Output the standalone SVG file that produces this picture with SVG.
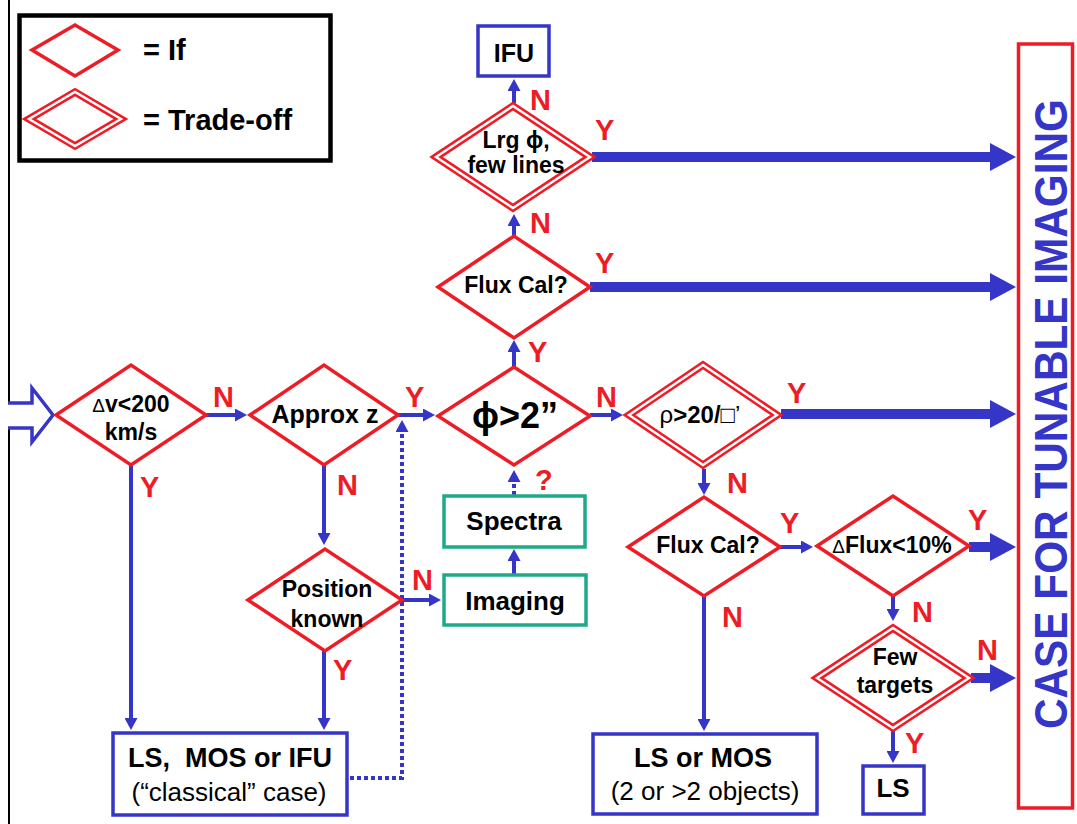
<svg xmlns="http://www.w3.org/2000/svg" width="1077" height="824" viewBox="0 0 1077 824">
<style>
text{font-family:"Liberation Sans",Arial,"DejaVu Sans",sans-serif;}
.t{font-weight:bold;font-size:23px;fill:#000;text-anchor:middle;}
.r{font-weight:normal;font-size:26px;fill:#000;text-anchor:middle;white-space:pre;}
.lbl{font-weight:bold;font-size:29px;fill:#ee1c25;}
.if{fill:#fff;stroke:#ee1c25;stroke-width:3.5;stroke-linejoin:miter;}
.to{fill:#fff;stroke:#ee1c25;stroke-width:7.5;stroke-linejoin:miter;}
.toi{fill:none;stroke:#fff;stroke-width:2.4;stroke-linejoin:miter;}
.bx{fill:#fff;stroke:#3535c8;stroke-width:3.5;}
.gx{fill:#fff;stroke:#1fa98b;stroke-width:3.5;}
.c{fill:none;stroke:#3535c8;stroke-width:4;}
.d{fill:none;stroke:#3535c8;stroke-width:4;stroke-dasharray:4 3;}
.k{fill:none;stroke:#3535c8;stroke-width:10;}
</style>
<defs>
<marker id="a" markerUnits="userSpaceOnUse" markerWidth="13" markerHeight="13" refX="3" refY="6.5" orient="auto"><path d="M0,0 L12,6.5 L0,13 z" fill="#3535c8"/></marker>
<marker id="A" markerUnits="userSpaceOnUse" markerWidth="27" markerHeight="28" refX="4" refY="14" orient="auto"><path d="M0,0 L26,14 L0,28 z" fill="#3535c8"/></marker>
</defs>
<rect width="1077" height="824" fill="#fff"/>
<line x1="9" y1="0" x2="9" y2="824" stroke="#000" stroke-width="2"/>

<g id="legend">
<rect x="19.5" y="15.5" width="311" height="145" fill="#fff" stroke="#000" stroke-width="4.5"/>
<polygon class="if" points="32,50 75,25 118,50 75,76"/>
<polygon class="to" points="29,119 75,92 121,119 75,146"/>
<polygon class="toi" points="29,119 75,92 121,119 75,146"/>
<text x="143" y="60" style="font-weight:bold;font-size:29px">= If</text>
<text x="143" y="130" style="font-weight:bold;font-size:29px">= Trade-off</text>
</g>

<g id="tunable">
<rect x="1018.5" y="44" width="54" height="764" fill="#fff" stroke="#ee1c25" stroke-width="3.5"/>
<text transform="translate(1067,414) rotate(-90)" text-anchor="middle" textLength="630" lengthAdjust="spacingAndGlyphs" style="font-size:47px;font-weight:bold;fill:#3535c8">CASE FOR TUNABLE IMAGING</text>
</g>

<g id="entry">
<path d="M8,403 H32 V388 L53,415 L32,442 V428 H8" fill="#fff" stroke="#3535c8" stroke-width="3.5"/>
</g>

<g id="connectors">
<path class="c" marker-end="url(#a)" d="M206,415 H238"/>
<path class="c" marker-end="url(#a)" d="M398,415 H426"/>
<path class="c" marker-end="url(#a)" d="M590,415 H614"/>
<path class="c" marker-end="url(#a)" d="M514,367 V349"/>
<path class="c" marker-end="url(#a)" d="M514,236 V223"/>
<path class="c" marker-end="url(#a)" d="M514,103 V88"/>
<path class="c" marker-end="url(#a)" d="M131,465 V721"/>
<path class="c" marker-end="url(#a)" d="M324,465 V536"/>
<path class="c" marker-end="url(#a)" d="M324,651 V721"/>
<path class="c" marker-end="url(#a)" d="M402,600 H432"/>
<path class="c" marker-end="url(#a)" d="M514,574 V558"/>
<path class="d" marker-end="url(#a)" d="M514,495 V479"/>
<path class="d" marker-end="url(#a)" d="M350,778 H402 V429"/>
<path class="c" marker-end="url(#a)" d="M704,469 V486"/>
<path class="c" marker-end="url(#a)" d="M780,547 H804"/>
<path class="c" marker-end="url(#a)" d="M704,596 V722"/>
<path class="c" marker-end="url(#a)" d="M893,596 V612"/>
<path class="c" marker-end="url(#a)" d="M893,731 V754"/>
<path class="k" marker-end="url(#A)" d="M592,157 H994"/>
<path class="k" marker-end="url(#A)" d="M590,287 H994"/>
<path class="k" marker-end="url(#A)" d="M781,414 H994"/>
<path class="k" marker-end="url(#A)" d="M969,547 H994"/>
<path class="k" marker-end="url(#A)" d="M971,678 H994"/>
<text class="lbl" x="530" y="110">N</text>
<text class="lbl" x="595" y="140">Y</text>
<text class="lbl" x="530" y="233">N</text>
<text class="lbl" x="595" y="273">Y</text>
<text class="lbl" x="528" y="362">Y</text>
<text class="lbl" x="213" y="407">N</text>
<text class="lbl" x="405" y="407">Y</text>
<text class="lbl" x="596" y="407">N</text>
<text class="lbl" x="787" y="403">Y</text>
<text class="lbl" x="535" y="490">?</text>
<text class="lbl" x="727" y="493">N</text>
<text class="lbl" x="140" y="497">Y</text>
<text class="lbl" x="337" y="495">N</text>
<text class="lbl" x="412" y="590">N</text>
<text class="lbl" x="333" y="680">Y</text>
<text class="lbl" x="780" y="533">Y</text>
<text class="lbl" x="968" y="530">Y</text>
<text class="lbl" x="722" y="627">N</text>
<text class="lbl" x="912" y="622">N</text>
<text class="lbl" x="977" y="660">N</text>
<text class="lbl" x="905" y="753">Y</text>
</g>

<g id="dv">
<polygon class="if" points="56,415 131,365 206,415 131,465"/>
<text class="t" x="131" y="412"><tspan style="font-weight:normal;font-size:19px">Δ</tspan>v&lt;200</text>
<text class="t" x="131" y="440">km/s</text>
</g>
<g id="approxz">
<polygon class="if" points="250,415 324,365 398,415 324,465"/>
<text class="t" x="325" y="423" style="font-size:25px">Approx z</text>
</g>
<g id="phi">
<polygon class="if" points="438,416 514,367 590,416 514,465"/>
<text class="t" x="515" y="428" style="font-size:36px">ϕ&gt;2”</text>
</g>
<g id="rho">
<polygon class="to" points="629,415 703,365 777,415 703,465"/>
<polygon class="toi" points="629,415 703,365 777,415 703,465"/>
<text class="t" x="700" y="423" style="font-size:24px"><tspan style="font-weight:normal">ρ</tspan>&gt;20/<tspan style="font-weight:normal">□’</tspan></text>
</g>
<g id="fluxcal1">
<polygon class="if" points="438,287 514,236 590,287 514,338"/>
<text class="t" x="516" y="293">Flux Cal?</text>
</g>
<g id="lrg">
<polygon class="to" points="436,157 513,106 590,157 513,208"/>
<polygon class="toi" points="436,157 513,106 590,157 513,208"/>
<text class="t" x="516" y="148">Lrg ϕ,</text>
<text class="t" x="516" y="173">few lines</text>
</g>
<g id="ifu">
<rect class="bx" x="478" y="26" width="71" height="50"/>
<text class="t" x="514" y="62" style="font-size:25px">IFU</text>
</g>
<g id="position">
<polygon class="if" points="248,600 325,549 402,600 325,651"/>
<text class="t" x="327" y="597">Position</text>
<text class="t" x="327" y="627">known</text>
</g>
<g id="spectra">
<rect class="gx" x="444" y="496" width="141" height="51"/>
<text class="t" x="514" y="530" style="font-size:26px">Spectra</text>
</g>
<g id="imaging">
<rect class="gx" x="444" y="575" width="142" height="50"/>
<text class="t" x="515" y="610" style="font-size:26px">Imaging</text>
</g>
<g id="fluxcal2">
<polygon class="if" points="628,547 704,497 780,547 704,596"/>
<text class="t" x="708" y="553">Flux Cal?</text>
</g>
<g id="dflux">
<polygon class="if" points="817,546 893,496 969,546 893,596"/>
<text class="t" x="892" y="553"><tspan style="font-weight:normal;font-size:19px">Δ</tspan>Flux&lt;10%</text>
</g>
<g id="few">
<polygon class="to" points="817,678 893,628 969,678 893,728"/>
<polygon class="toi" points="817,678 893,628 969,678 893,728"/>
<text class="t" x="895" y="665">Few</text>
<text class="t" x="895" y="693">targets</text>
</g>
<g id="ls">
<rect class="bx" x="863" y="766" width="61" height="48"/>
<text class="t" x="893" y="797" style="font-size:26px">LS</text>
</g>
<g id="lsmos">
<rect class="bx" x="593" y="734" width="224" height="80"/>
<text class="t" x="703" y="767" style="font-size:27px">LS or MOS</text>
<text class="r" x="705" y="800">(2 or &gt;2 objects)</text>
</g>
<g id="classical">
<rect class="bx" x="113" y="733" width="234" height="82"/>
<text class="t" x="230" y="767" style="font-size:27px;white-space:pre">LS,  MOS or IFU</text>
<text class="r" x="229" y="801">(“classical” case)</text>
</g>
</svg>
